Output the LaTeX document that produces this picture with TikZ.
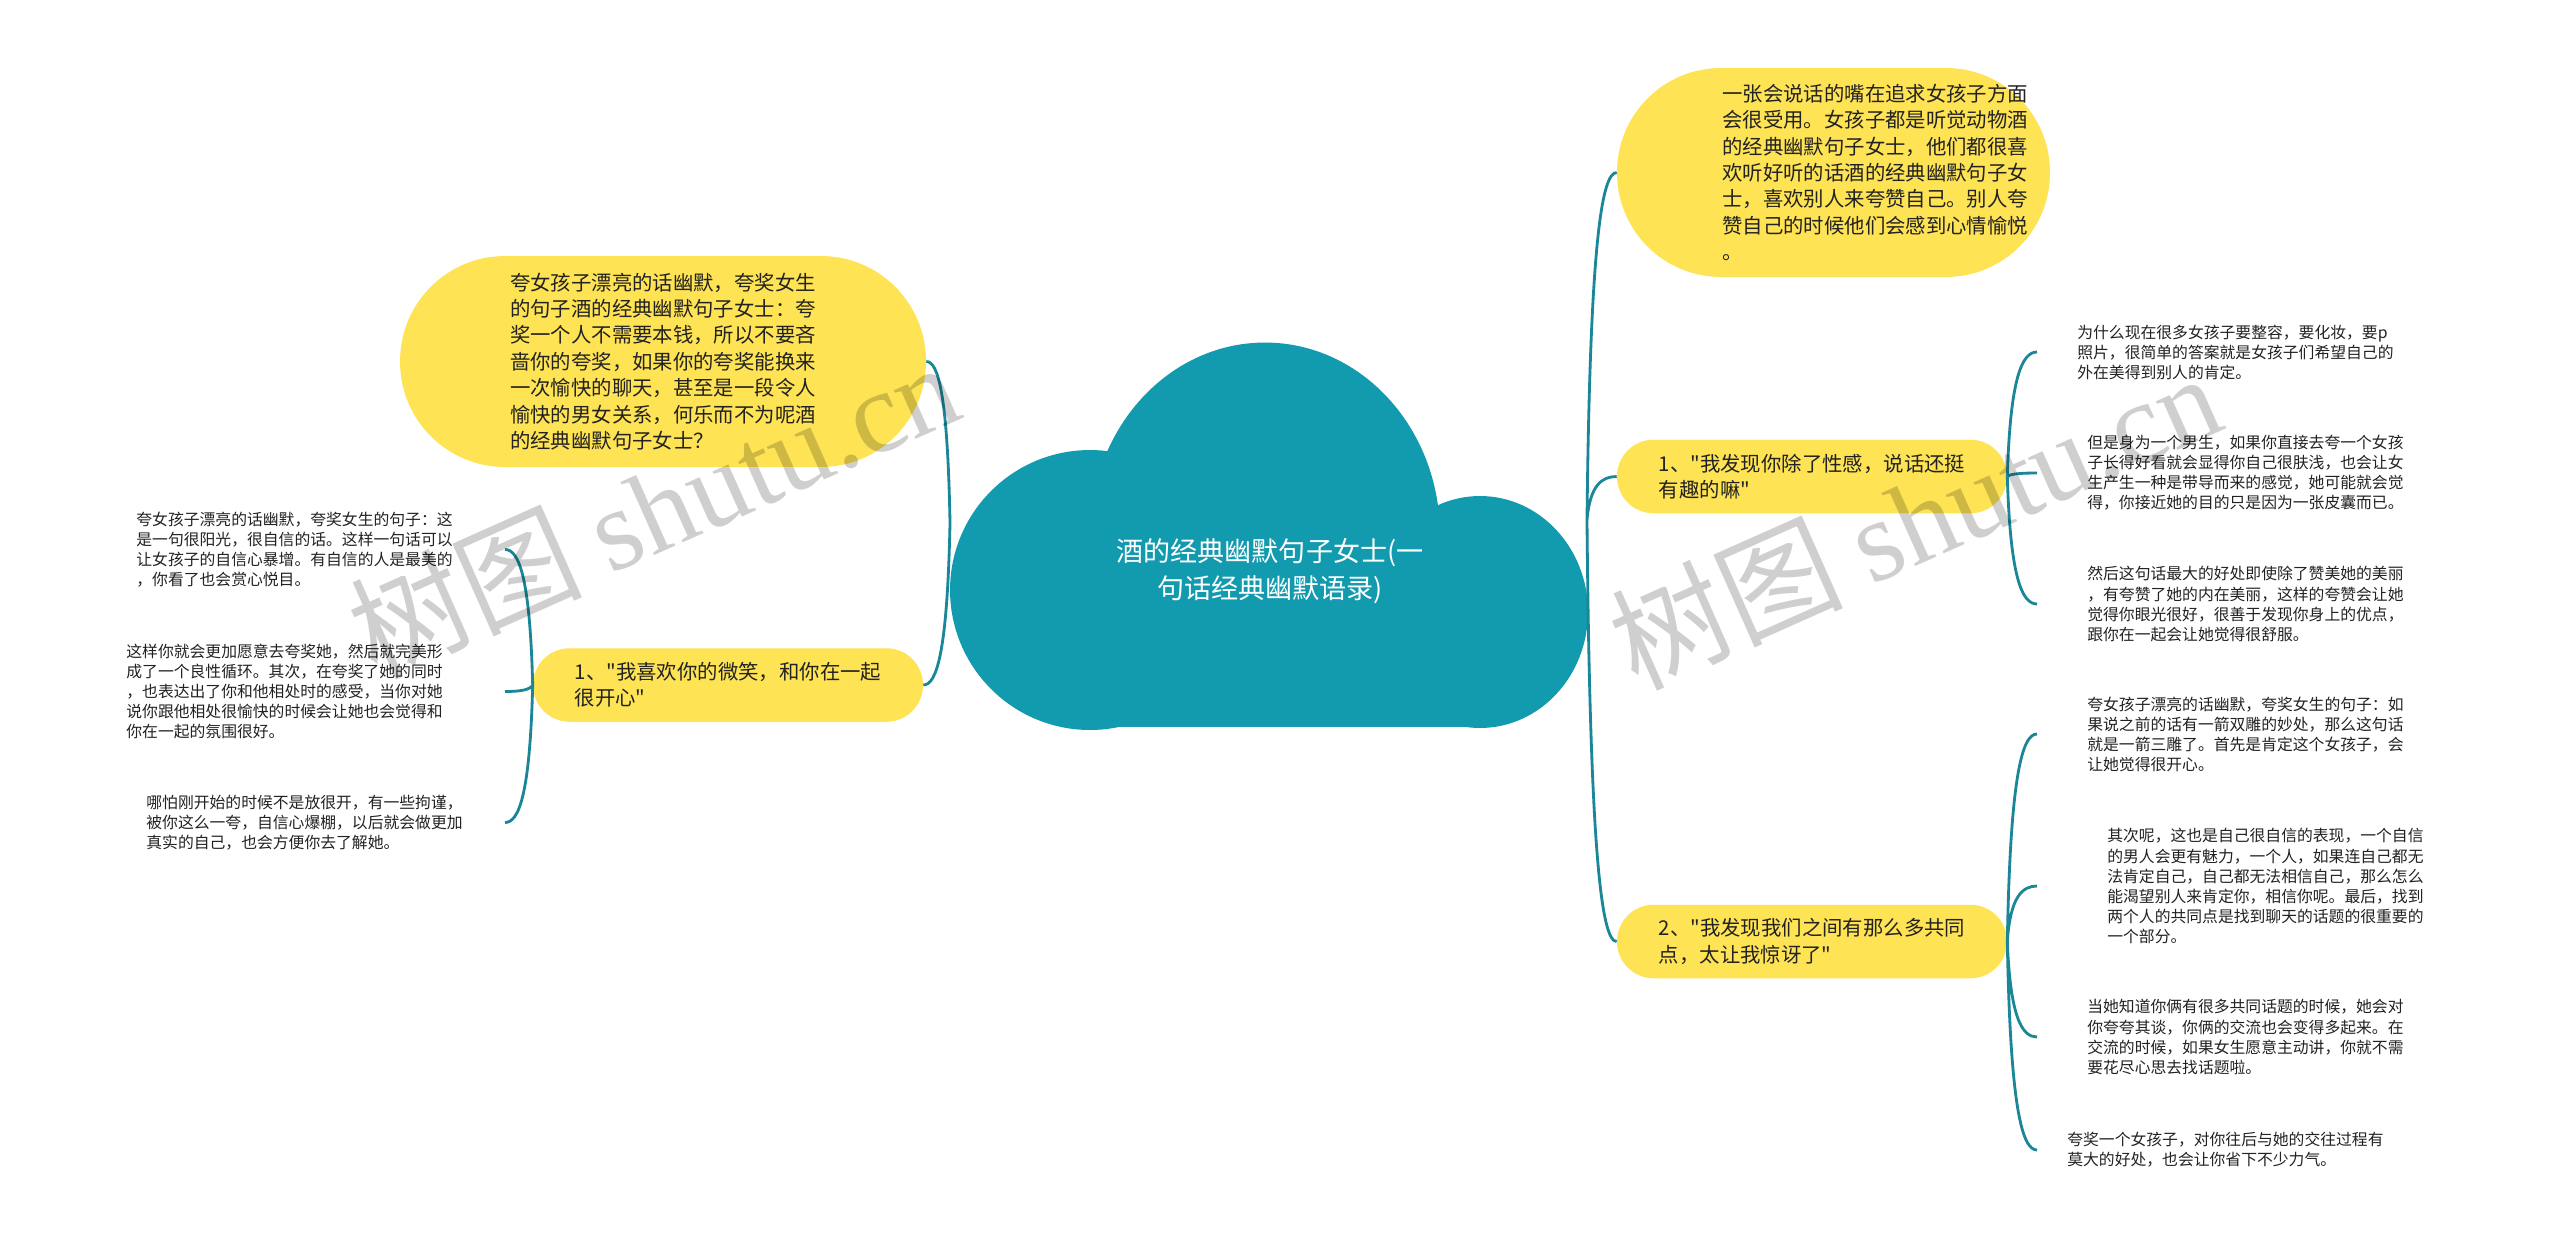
\documentclass[tikz,border=0pt]{standalone}
\usepackage{fontspec}
\setmainfont{Noto Sans CJK SC}[Ligatures=TeXOff]
\newfontfamily\wmlatin{Liberation Serif}
\usetikzlibrary{calc}
\definecolor{cloudc}{RGB}{18,154,174}
\definecolor{boxc}{RGB}{254,227,84}
\definecolor{lnk}{RGB}{26,135,152}
\definecolor{txt}{RGB}{34,34,34}

\begin{document}
\begin{tikzpicture}[x=0.02cm, y=-0.02cm,
  btxt/.style={inner sep=0pt, align=left, text=txt, font=\fontsize{11.6pt}{15pt}\selectfont},
  ybox/.style={btxt, fill=boxc},
  pill/.style={ybox, minimum width=7.8cm, minimum height=1.47cm, rounded corners=0.73cm},
  leaf/.style={inner ysep=2pt, align=left, text=txt, font=\fontsize{9pt}{11.4pt}\selectfont},
  ttl/.style={inner sep=0pt, align=center, text=white, font=\fontsize{15.4pt}{21pt}\selectfont},
  link/.style={draw=lnk, line width=1.6pt,
    to path={let \p1=(\tikztostart), \p2=(\tikztotarget) in
      .. controls ({\x1+0.1*(\x2-\x1)},{\y1+0.8*(\y2-\y1)}) and ({0.5*(\x1+\x2)},\y2) .. (\tikztotarget)}},
  wm/.style={inner sep=0pt, anchor=base west, rotate=24, text=black, text opacity=0.19,
    font=\fontsize{66pt}{66pt}\selectfont},
]
\useasboundingbox (0,0) rectangle (2560,1245);
\fill[white] (0,0) rectangle (2560,1245);

% ---- central cloud ----
\fill[cloudc] (1090,590) ellipse [x radius=2.8cm, y radius=2.8cm];
\fill[cloudc] (1265,534.5) ellipse [x radius=3.5cm, y radius=3.84cm];
\fill[cloudc] (1480,612) ellipse [x radius=2.16cm, y radius=2.32cm];
\fill[cloudc] (1090,590) rectangle (1480,727);
\node[ttl] (root) at (1270,571) {酒的经典幽默句子女士(一\\句话经典幽默语录)};
\coordinate (cL) at (950,523);
\coordinate (cR) at (1587,520);

% ---- left branch ----
\node[ybox, minimum width=10.52cm, minimum height=4.22cm, rounded corners=2.1cm] (lt) at (663,361.5)
  {夸女孩子漂亮的话幽默，夸奖女生\\的句子酒的经典幽默句子女士：夸\\奖一个人不需要本钱，所以不要吝\\啬你的夸奖，如果你的夸奖能换来\\一次愉快的聊天，甚至是一段令人\\愉快的男女关系，何乐而不为呢酒\\的经典幽默句子女士？};
\node[pill] (l1) at (728,685) {1、"我喜欢你的微笑，和你在一起\\很开心"};

\node[leaf, anchor=east, inner xsep=1.04cm] (l1a) at (505,549.5)
  {夸女孩子漂亮的话幽默，夸奖女生的句子：这\\是一句很阳光，很自信的话。这样一句话可以\\让女孩子的自信心暴增。有自信的人是最美的\\，你看了也会赏心悦目。};
\node[leaf, anchor=east, inner xsep=1.24cm] (l1b) at (505,691.5)
  {这样你就会更加愿意去夸奖她，然后就完美形\\成了一个良性循环。其次，在夸奖了她的同时\\，也表达出了你和他相处时的感受，当你对她\\说你跟他相处很愉快的时候会让她也会觉得和\\你在一起的氛围很好。};
\node[leaf, anchor=east, inner xsep=0.84cm] (l1c) at (505,822.5)
  {哪怕刚开始的时候不是放很开，有一些拘谨，\\被你这么一夸，自信心爆棚，以后就会做更加\\真实的自己，也会方便你去了解她。};

% ---- right branch ----
\node[ybox, minimum width=8.66cm, minimum height=4.18cm, rounded corners=2.08cm] (rt) at (1833.5,172.5) {};
\node[btxt, anchor=west] (rtt) at (1722,172.5)
  {一张会说话的嘴在追求女孩子方面\\会很受用。女孩子都是听觉动物酒\\的经典幽默句子女士，他们都很喜\\欢听好听的话酒的经典幽默句子女\\士，喜欢别人来夸赞自己。别人夸\\赞自己的时候他们会感到心情愉悦\\。};
\node[pill] (r1) at (1812,476.5) {1、"我发现你除了性感，说话还挺\\有趣的嘛"};
\node[pill] (r2) at (1812,941.5) {2、"我发现我们之间有那么多共同\\点，太让我惊讶了"};

\node[leaf, anchor=west, inner xsep=0.8cm] (r1a) at (2037,352)
  {为什么现在很多女孩子要整容，要化妆，要p\\照片，很简单的答案就是女孩子们希望自己的\\外在美得到别人的肯定。};
\node[leaf, anchor=west, inner xsep=1.0cm] (r1b) at (2037,473)
  {但是身为一个男生，如果你直接去夸一个女孩\\子长得好看就会显得你自己很肤浅，也会让女\\生产生一种是带导而来的感觉，她可能就会觉\\得，你接近她的目的只是因为一张皮囊而已。};
\node[leaf, anchor=west, inner xsep=1.0cm] (r1c) at (2037,604)
  {然后这句话最大的好处即使除了赞美她的美丽\\，有夸赞了她的内在美丽，这样的夸赞会让她\\觉得你眼光很好，很善于发现你身上的优点，\\跟你在一起会让她觉得很舒服。};
\node[leaf, anchor=west, inner xsep=1.0cm] (r2a) at (2037,734)
  {夸女孩子漂亮的话幽默，夸奖女生的句子：如\\果说之前的话有一箭双雕的妙处，那么这句话\\就是一箭三雕了。首先是肯定这个女孩子，会\\让她觉得很开心。};
\node[leaf, anchor=west, inner xsep=1.4cm] (r2b) at (2037,886)
  {其次呢，这也是自己很自信的表现，一个自信\\的男人会更有魅力，一个人，如果连自己都无\\法肯定自己，自己都无法相信自己，那么怎么\\能渴望别人来肯定你，相信你呢。最后，找到\\两个人的共同点是找到聊天的话题的很重要的\\一个部分。};
\node[leaf, anchor=west, inner xsep=1.0cm] (r2c) at (2037,1037)
  {当她知道你俩有很多共同话题的时候，她会对\\你夸夸其谈，你俩的交流也会变得多起来。在\\交流的时候，如果女生愿意主动讲，你就不需\\要花尽心思去找话题啦。};
\node[leaf, anchor=west, inner xsep=0.6cm] (r2d) at (2037,1150)
  {夸奖一个女孩子，对你往后与她的交往过程有\\莫大的好处，也会让你省下不少力气。};

% ---- connectors ----
\draw[link] (cL) to (lt.east) (cL) to (l1.east);
\draw[link] (l1.west) to (l1a.east) (l1.west) to (l1b.east) (l1.west) to (l1c.east);
\draw[link] (cR) to (rt.west) (cR) to (r1.west) (cR) to (r2.west);
\draw[link] (r1.east) to (r1a.west) (r1.east) to (r1b.west) (r1.east) to (r1c.west);
\draw[link] (r2.east) to (r2a.west) (r2.east) to (r2b.west)
            (r2.east) to (r2c.west) (r2.east) to (r2d.west);

% ---- watermarks ----
\node[wm] (wmL) at (375,680) {树图 {\wmlatin shutu.cn}};
\node[wm] (wmR) at (1636,691) {树图 {\wmlatin shutu.cn}};
\end{tikzpicture}
\end{document}
